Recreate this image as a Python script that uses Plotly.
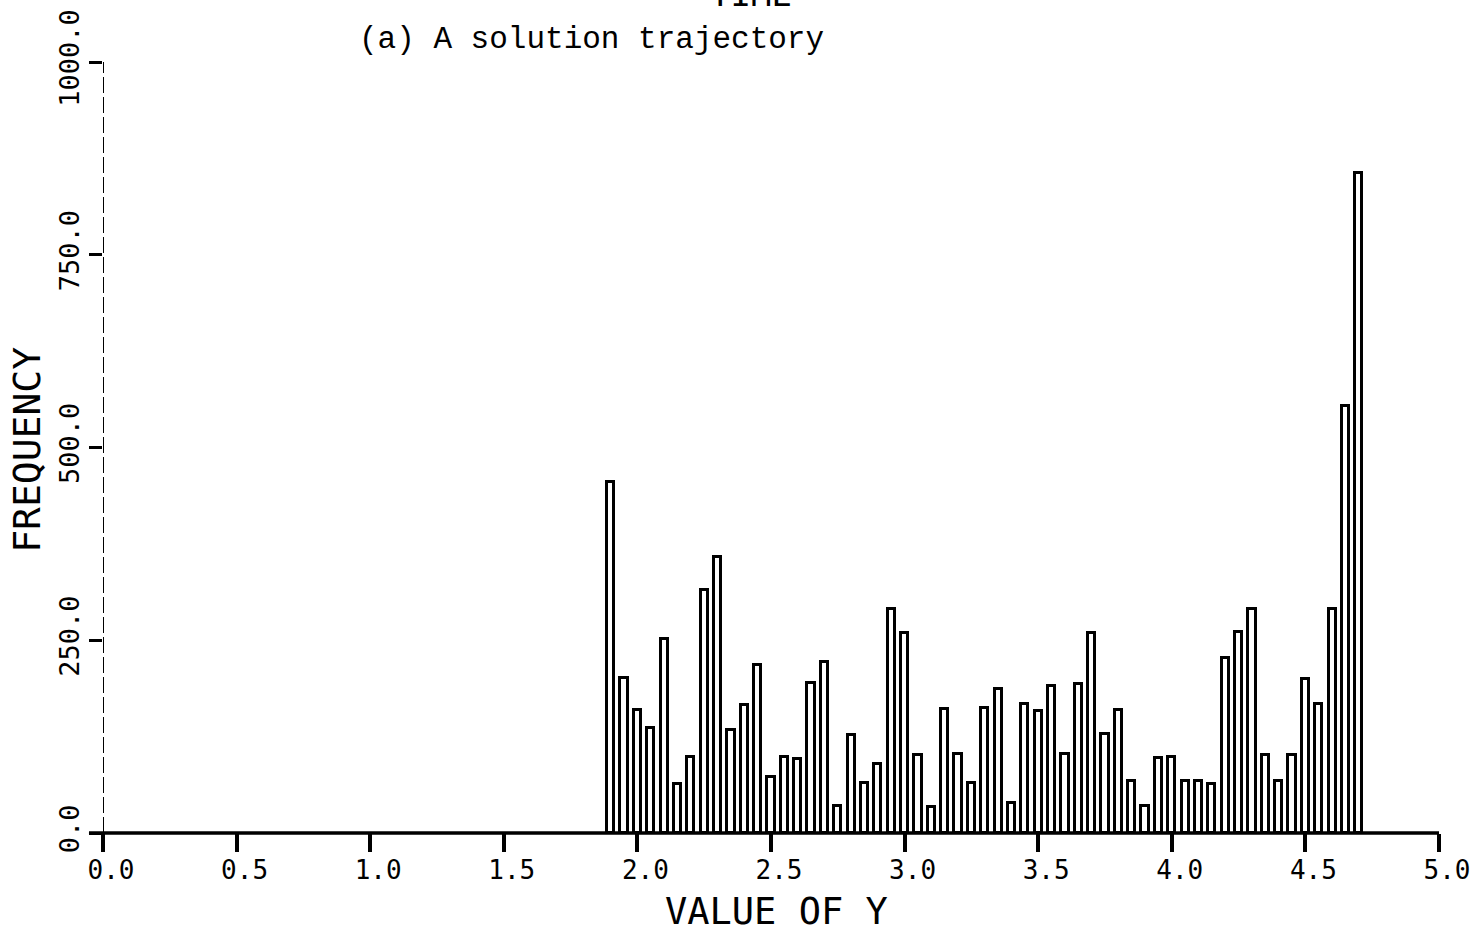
import plotly.graph_objects as go

# Bin centres (value of Y) and frequencies
bin_centres = [1.90, 1.95, 2.00, 2.05, 2.10, 2.15, 2.20, 2.25, 2.30, 2.35,
               2.40, 2.45, 2.50, 2.55, 2.60, 2.65, 2.70, 2.75, 2.80, 2.85,
               2.90, 2.95, 3.00, 3.05, 3.10, 3.15, 3.20, 3.25, 3.30, 3.35,
               3.40, 3.45, 3.50, 3.55, 3.60, 3.65, 3.70, 3.75, 3.80, 3.85,
               3.90, 3.95, 4.00, 4.05, 4.10, 4.15, 4.20, 4.25, 4.30, 4.35,
               4.40, 4.45, 4.50, 4.55, 4.60, 4.65, 4.70]
frequency = [455, 201, 159, 136, 251, 63, 98, 315, 358, 133,
             166, 218, 73, 99, 96, 194, 222, 35, 127, 65,
             90, 290, 259, 101, 34, 161, 102, 65, 162, 187,
             39, 167, 158, 191, 102, 193, 259, 129, 160, 68,
             35, 97, 98, 67, 67, 64, 227, 261, 290, 101,
             67, 101, 200, 167, 290, 554, 856]

x_ticks = [0.0, 0.5, 1.0, 1.5, 2.0, 2.5, 3.0, 3.5, 4.0, 4.5, 5.0]
x_tick_labels = ["0.0", "0.5", "1.0", "1.5", "2.0", "2.5", "3.0", "3.5", "4.0", "4.5", "5.0"]
y_ticks = [0, 250, 500, 750, 1000]
y_tick_labels = ["0.0", "250.0", "500.0", "750.0", "1000.0"]

title_text = "(a) A solution trajectory"
top_cut_text = "TIME"
x_title = "VALUE OF Y"
y_title = "FREQUENCY"

plot_font = "DejaVu Sans Mono"

fig = go.Figure()
fig.add_trace(go.Bar(
    x=bin_centres, y=frequency, width=0.027,
    marker=dict(color="white", line=dict(color="black", width=3)),
    showlegend=False,
))

# dashed vertical axis line
fig.add_shape(type="line", xref="x", yref="y", x0=0, x1=0, y0=0, y1=1000,
              line=dict(color="black", width=2, dash="16px,4px"))
# horizontal axis line, slightly extended to the left of the vertical axis
fig.add_shape(type="line", xref="paper", yref="paper", x0=-0.0105, x1=1, y0=0, y1=0,
              line=dict(color="black", width=3.5))

fig.update_layout(
    width=1474, height=935,
    margin=dict(l=103, r=35, t=62, b=102),
    paper_bgcolor="white", plot_bgcolor="white",
    bargap=0,
    xaxis=dict(range=[0, 5], tickvals=x_ticks, ticktext=x_tick_labels,
               automargin=False,
               showgrid=False, zeroline=False, showline=False,
               ticks="outside", ticklen=18, tickwidth=3.5,
               tickcolor="black", ticklabelshift=8, ticklabelstandoff=-4,
               ticklabeloverflow="allow",
               tickfont=dict(family=plot_font, size=26, color="black")),
    yaxis=dict(range=[0, 1000], tickvals=y_ticks, ticktext=y_tick_labels,
               automargin=False,
               showgrid=False, zeroline=False, showline=False,
               ticks="outside", ticklen=13, tickwidth=3, tickcolor="black",
               tickangle=-90, ticklabelstandoff=-1,
               ticklabeloverflow="allow",
               tickfont=dict(family=plot_font, size=27, color="black")),
    annotations=[
        dict(text=title_text, xref="paper", yref="paper", x=0.3657, y=1,
             yshift=23, showarrow=False, xanchor="center", yanchor="middle",
             font=dict(family="Liberation Mono", size=31, color="black")),
        dict(text=top_cut_text, xref="paper", yref="paper", x=0.485, y=1,
             yshift=68, showarrow=False, xanchor="center", yanchor="middle",
             font=dict(family=plot_font, size=34, color="black")),
        dict(text=x_title, xref="paper", yref="paper", x=0.504, y=0,
             yshift=-78, showarrow=False, xanchor="center", yanchor="middle",
             font=dict(family=plot_font, size=37, color="black")),
        dict(text=y_title, xref="paper", yref="paper", x=0, y=0.497,
             xshift=-76, showarrow=False, xanchor="center", yanchor="middle",
             textangle=-90,
             font=dict(family=plot_font, size=38, color="black")),
    ],
)

fig.write_html("out.html", config={"displayModeBar": False},
               post_script="document.body.style.margin='0';")
